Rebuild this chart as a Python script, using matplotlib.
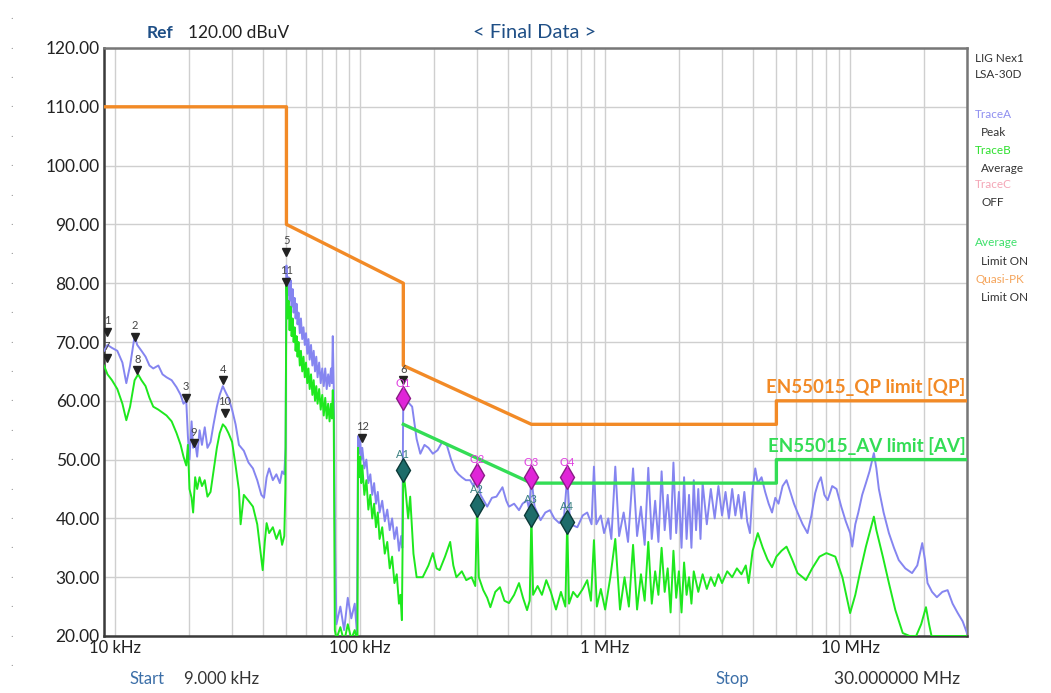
"""
EMI conducted emission scan - Final Data screen (EN55015)
"""

import numpy as np
import matplotlib
matplotlib.use("Agg")
import matplotlib.pyplot as plt
import matplotlib.transforms as mtransforms

# ══════════════════════════════════════════════
# DATA  (frequency in kHz, level in dBuV)
# ══════════════════════════════════════════════

# Quasi-peak / average limit lines
qp_freq = [9, 50, 50, 150, 150, 500, 5000, 5000, 30000]
qp_level = [110, 110, 90, 80, 66, 56, 56, 60, 60]
av_freq = [150, 500, 5000, 5000, 30000]
av_level = [56, 46, 46, 50, 50]

# TraceA - Peak  (freq kHz, dBuV)
trace_a = [
    (9.0, 68.5), (9.3, 69.5), (9.7, 69.0), (10.2, 68.5), (10.7, 66.5), (11.1, 63.0),
    (11.5, 66.0), (12.0, 71.0), (12.3, 69.5), (12.8, 68.5), (13.3, 67.5), (13.8, 66.0),
    (14.3, 65.5), (15.0, 66.0), (15.6, 64.5), (16.2, 64.0), (17.0, 63.5), (17.8, 62.3),
    (18.5, 61.0), (19.0, 59.5), (19.5, 60.0), (19.8, 54.0), (20.1, 50.0), (20.5, 56.5),
    (20.8, 52.0), (21.2, 53.0), (21.6, 50.5), (22.1, 55.0), (22.6, 52.5), (23.2, 55.5),
    (23.8, 52.0), (24.5, 53.0), (25.2, 56.0), (26.0, 59.0), (26.7, 61.0), (27.5, 62.5),
    (28.2, 61.5), (29.0, 60.5), (30.0, 58.5), (31.0, 56.0), (32.0, 52.5), (33.5, 51.5),
    (35.0, 49.5), (36.5, 48.5), (38.0, 46.5), (39.5, 44.0), (40.5, 43.5), (41.5, 47.0),
    (42.5, 48.5), (44.0, 46.5), (45.5, 47.5), (47.0, 46.0), (48.0, 48.0), (49.0, 47.5),
    (49.6, 52.0),
    (50.0, 83.0), (50.5, 78.0), (51.0, 81.0), (51.5, 77.0), (52.0, 80.5), (52.5, 76.0),
    (53.0, 79.0), (53.5, 75.0), (54.0, 77.5), (54.5, 74.0), (55.0, 76.5), (55.5, 73.0),
    (56.0, 75.0), (56.7, 71.5), (57.3, 74.0), (58.0, 70.5), (58.7, 72.5), (59.4, 69.5),
    (60.1, 71.5), (60.8, 68.0), (61.5, 70.5), (62.2, 67.0), (63.0, 69.5), (63.8, 66.0),
    (64.6, 68.5), (65.4, 65.0), (66.2, 67.5), (67.0, 64.0), (68.0, 66.5), (69.0, 63.0),
    (70.0, 65.5), (71.0, 62.5), (72.0, 65.5), (73.0, 62.0), (74.0, 64.5), (75.0, 62.5),
    (76.0, 65.5), (76.7, 63.0), (77.3, 71.0), (78.0, 62.0),
    (79, 35.0), (80, 22.0), (83, 25.0), (86, 21.0), (89, 26.5), (92, 23.0), (95, 25.5),
    (97, 20.5),
    (98, 54.0), (99, 51.0), (100, 53.5), (101, 50.0), (102, 52.0), (104, 48.5),
    (106, 50.0), (108, 46.0), (110, 47.5), (112, 44.0), (114, 46.0), (116, 42.5),
    (118, 44.5), (120, 41.0), (123, 43.0), (126, 39.5), (129, 41.5), (132, 38.0),
    (135, 40.0), (138, 36.5), (141, 38.5), (144, 34.5), (147, 37.0), (148.5, 35.0),
    (150, 62.0), (155, 60.0), (163, 59.0), (170, 53.5), (176, 51.0), (183, 52.5),
    (190, 52.0), (198, 51.0), (207, 51.6), (216, 53.0), (226, 52.4), (235, 50.0),
    (244, 48.2), (252, 47.5), (260, 47.0), (270, 46.5), (281, 46.5), (290, 45.5),
    (300, 47.5), (310, 44.0), (330, 42.0), (345, 43.5), (360, 43.7), (381, 45.3),
    (395, 43.0), (405, 42.0), (425, 42.5), (445, 41.4), (460, 42.5), (480, 43.1),
    (490, 41.5), (500, 47.0), (515, 42.0), (545, 39.7), (570, 41.0), (595, 41.4),
    (620, 40.0), (650, 39.2), (680, 40.5), (700, 47.0), (720, 39.0), (770, 38.5),
    (810, 40.5), (845, 41.0), (880, 39.0), (900, 48.8), (920, 39.0), (960, 40.5),
    (990, 37.5), (1030, 40.0), (1060, 36.5), (1100, 48.8), (1140, 37.0), (1190, 41.0),
    (1240, 36.0), (1300, 48.5), (1350, 37.0), (1400, 42.0), (1450, 35.5), (1500, 48.6),
    (1550, 36.5), (1600, 43.0), (1650, 36.0), (1700, 48.0), (1750, 38.0), (1800, 44.0),
    (1850, 36.5), (1900, 49.5), (1950, 37.5), (2000, 44.5), (2050, 35.0), (2100, 47.0),
    (2150, 36.5), (2200, 44.0), (2250, 35.0), (2300, 46.5), (2350, 38.0), (2400, 45.0),
    (2450, 36.5), (2500, 46.0), (2600, 39.0), (2700, 45.0), (2800, 40.0), (2900, 45.5),
    (3000, 40.5), (3100, 44.5), (3200, 40.0), (3300, 45.0), (3400, 40.5), (3500, 44.0),
    (3600, 40.0), (3700, 44.5), (3800, 39.5), (3900, 37.5), (4000, 45.0), (4100, 48.5),
    (4200, 46.0), (4350, 47.0), (4500, 44.5), (4650, 42.5), (4800, 41.0), (4950, 43.5),
    (5100, 42.5), (5300, 45.5), (5500, 46.5), (5700, 44.5), (5900, 42.5), (6100, 41.0),
    (6400, 39.0), (6700, 37.5), (6950, 40.5), (7200, 44.3), (7400, 46.0), (7600, 47.0),
    (7850, 44.0), (8100, 43.1), (8450, 45.5), (8800, 45.0), (9200, 42.0), (9600, 39.5),
    (10000, 37.5), (10200, 35.2), (10500, 39.0), (10800, 41.0), (11200, 44.0),
    (11600, 46.0), (12000, 48.0), (12500, 51.1), (12800, 48.5), (13100, 45.0),
    (13700, 41.0), (14400, 37.5), (15100, 35.0), (15800, 32.9), (16800, 31.5),
    (17900, 30.7), (18800, 32.0), (19700, 35.8), (20200, 33.0), (20700, 29.0),
    (21600, 27.5), (22600, 26.6), (23800, 27.5), (25000, 27.8), (26200, 25.5),
    (27500, 23.9), (28800, 22.5), (30000, 20.5),
]

# TraceB - Average  (freq kHz, dBuV)
trace_b = [
    (9.0, 66.0), (9.3, 64.5), (9.7, 63.5), (10.2, 62.0), (10.7, 59.5), (11.1, 56.7),
    (11.5, 59.0), (12.0, 63.5), (12.4, 64.5), (12.8, 63.5), (13.3, 62.5), (13.8, 60.5),
    (14.3, 59.0), (15.0, 58.5), (15.6, 58.0), (16.2, 57.5), (17.0, 56.5), (17.8, 54.5),
    (18.5, 52.5), (19.0, 50.5), (19.5, 49.0), (19.8, 52.5), (20.1, 45.0), (20.5, 43.5),
    (20.8, 41.0), (21.2, 47.0), (21.6, 45.0), (22.1, 47.0), (22.6, 45.5), (23.2, 46.5),
    (23.8, 43.7), (24.5, 44.5), (25.2, 48.0), (26.0, 52.0), (26.7, 54.5), (27.5, 56.0),
    (28.2, 55.5), (29.0, 54.5), (30.0, 53.0), (31.0, 49.0), (32.0, 44.8), (32.5, 39.0),
    (33.5, 44.0), (35.0, 43.0), (36.5, 42.0), (38.0, 39.0), (39.5, 33.0), (40.0, 31.2),
    (40.8, 36.0), (41.5, 39.2), (42.5, 37.5), (44.0, 38.5), (45.5, 36.5), (47.0, 38.0),
    (48.0, 35.5), (49.0, 37.0), (49.5, 45.0),
    (50.0, 80.0), (50.5, 74.0), (51.0, 77.0), (51.5, 72.0), (52.0, 76.0), (52.5, 71.0),
    (53.0, 74.0), (53.5, 70.0), (54.0, 72.5), (54.5, 68.5), (55.0, 71.0), (55.5, 67.5),
    (56.0, 70.0), (56.7, 66.0), (57.3, 68.5), (58.0, 65.0), (58.7, 67.5), (59.4, 64.0),
    (60.1, 66.5), (60.8, 63.0), (61.5, 65.5), (62.2, 62.0), (63.0, 64.5), (63.8, 61.0),
    (64.6, 63.5), (65.4, 60.0), (66.2, 62.5), (67.0, 59.5), (68.0, 62.0), (69.0, 58.5),
    (70.0, 61.0), (71.0, 57.5), (72.0, 60.5), (73.0, 57.0), (74.0, 59.5), (75.0, 56.5),
    (76.0, 59.5), (76.7, 57.0), (77.3, 61.8), (78.0, 57.0),
    (78.8, 21.0), (80, 19.5), (83, 21.5), (86, 19.0), (89, 22.0), (92, 19.5), (95, 21.0),
    (97.5, 19.0),
    (98, 52.0), (99, 47.0), (100, 50.5), (101, 46.0), (102, 49.0), (104, 44.0),
    (106, 46.5), (108, 41.5), (110, 44.0), (112, 40.0), (114, 42.5), (116, 38.5),
    (118, 41.0), (120, 36.5), (123, 38.5), (126, 34.0), (129, 36.0), (132, 31.5),
    (135, 33.5), (138, 29.0), (141, 30.5), (144, 25.5), (146, 27.0), (148, 22.7),
    (150, 48.2), (153, 45.0), (157, 40.0), (160, 43.7), (165, 34.0), (170, 30.0),
    (180, 30.0), (190, 32.0), (198, 34.1), (205, 31.5), (211, 31.2), (222, 33.5),
    (233, 36.0), (240, 32.0), (247, 30.0), (260, 31.0), (271, 29.5), (285, 30.0),
    (295, 28.5), (300, 42.3), (305, 30.0), (318, 27.8), (330, 26.5), (340, 24.9),
    (356, 27.5), (372, 28.3), (388, 26.0), (405, 25.6), (425, 27.0), (445, 29.0),
    (462, 26.5), (480, 24.4), (492, 26.0), (500, 40.6), (508, 27.0), (530, 28.5),
    (552, 27.0), (575, 29.5), (600, 27.5), (630, 24.5), (660, 27.5), (688, 25.0),
    (700, 39.4), (712, 25.5), (740, 27.5), (770, 26.6), (810, 28.0), (845, 29.5),
    (875, 26.0), (900, 36.3), (925, 25.0), (960, 28.0), (1000, 24.5), (1050, 30.0),
    (1100, 36.5), (1150, 24.5), (1200, 30.0), (1250, 25.0), (1300, 35.5), (1350, 24.5),
    (1400, 30.5), (1450, 26.0), (1500, 36.0), (1550, 25.5), (1600, 31.0), (1650, 27.0),
    (1700, 35.0), (1750, 27.5), (1800, 31.5), (1850, 24.0), (1900, 34.5), (1950, 26.5),
    (2000, 31.0), (2050, 24.0), (2100, 32.5), (2150, 27.0), (2200, 30.0), (2250, 25.5),
    (2300, 31.0), (2400, 27.5), (2500, 30.5), (2600, 28.0), (2700, 30.0), (2800, 28.5),
    (2900, 30.5), (3000, 29.0), (3150, 31.0), (3300, 30.0), (3450, 31.5), (3600, 30.5),
    (3750, 32.0), (3850, 29.0), (4000, 34.5), (4200, 37.5), (4400, 35.0), (4600, 33.0),
    (4800, 31.7), (5000, 33.5), (5250, 34.5), (5500, 35.2), (5800, 33.0), (6100, 30.7),
    (6400, 30.0), (6600, 29.5), (7000, 31.5), (7500, 33.5), (8000, 34.1), (8700, 33.5),
    (9300, 30.0), (10000, 23.9), (10500, 27.0), (11000, 31.0), (11600, 35.2),
    (12000, 37.5), (12500, 40.3), (12800, 38.0), (13600, 33.5), (14400, 29.0),
    (15300, 24.4), (16400, 20.5), (17500, 20.0), (18600, 20.0), (19500, 22.0),
    (20400, 24.9), (21000, 22.0), (21500, 20.0), (30000, 20.0),
]
trace_a_freq, trace_a_level = zip(*trace_a)
trace_b_freq, trace_b_level = zip(*trace_b)

# Peak markers (black triangles)
peak_labels = ["1", "7", "2", "8", "3", "9", "4", "10", "5", "11", "12", "6"]
peak_freq = [9.25, 9.25, 12.0, 12.3, 19.5, 21.0, 27.5, 28.0, 50.0, 50.0, 102, 150]
peak_level = [71.7, 67.3, 70.9, 65.2, 60.5, 52.8, 63.5, 58.0, 85.3, 80.2, 53.7, 63.5]

# Final data points: quasi-peak (Q) and average (A)
qp_labels = ["Q1", "Q2", "Q3", "Q4"]
qp_pt_freq = [150, 300, 500, 700]
qp_pt_level = [60.4, 47.4, 47.0, 47.0]
av_labels = ["A1", "A2", "A3", "A4"]
av_pt_freq = [150, 300, 500, 700]
av_pt_level = [48.2, 42.3, 40.6, 39.4]

x_ticks = [10e3, 100e3, 1e6, 10e6]
x_tick_labels = ["10 kHz", "100 kHz", "1 MHz", "10 MHz"]
y_ticks = [20, 30, 40, 50, 60, 70, 80, 90, 100, 110, 120]

# ══════════════════════════════════════════════
# STYLE
# ══════════════════════════════════════════════

C_QP = "#f28a26"
C_AV = "#33dd55"
C_TA = "#8585f0"
C_TB = "#1ee81e"
C_NAVY = "#1f4f86"
C_TXT = "#333333"
C_GRID = "#cfcfcf"

plt.rcParams["font.family"] = ["Lato", "DejaVu Sans"]

fig = plt.figure(figsize=(10.51, 6.93), dpi=100, facecolor="white")
ax = fig.add_axes([104 / 1051, 1 - 636 / 693, 863 / 1051, 588 / 693])

khz = lambda v: np.array(v, dtype=float) * 1e3

# ── grid ──────────────────────────────────────
ax.set_xscale("log")
ax.set_xlim(9e3, 30e6)
ax.set_ylim(20, 120)
ax.set_xticks(x_ticks)
ax.set_xticklabels(x_tick_labels, fontsize=12, color="#222222")
ax.set_yticks(y_ticks)
ax.set_yticklabels([f"{v:.2f}" for v in y_ticks], fontsize=12.5, color="#222222")
ax.xaxis.set_minor_locator(matplotlib.ticker.LogLocator(base=10, subs=np.arange(2, 10)))
ax.xaxis.set_minor_formatter(matplotlib.ticker.NullFormatter())
ax.tick_params(which="both", length=0, pad=3)
ax.grid(which="both", axis="x", color=C_GRID, lw=1.0)
ax.grid(which="major", axis="y", color=C_GRID, lw=1.0)
ax.set_axisbelow(True)
for name, sp in ax.spines.items():
    sp.set_color("#3a3a3a" if name in ("left", "bottom") else "#777777")
    sp.set_linewidth(1.8)

# ── traces ────────────────────────────────────
ax.plot(khz(trace_a_freq), trace_a_level, color=C_TA, lw=1.4, zorder=3)
ax.plot(khz(trace_b_freq), trace_b_level, color=C_TB, lw=1.4, zorder=4)

# ── limit lines ───────────────────────────────
ax.plot(khz(qp_freq), qp_level, color=C_QP, lw=2.4, zorder=5)
ax.plot(khz(av_freq), av_level, color=C_AV, lw=2.4, zorder=5)
ax.text(29.6e6, 60.8, "EN55015_QP limit [QP]", color=C_QP, fontsize=13.5,
        fontweight="bold", ha="right", va="bottom", zorder=6)
ax.text(29.6e6, 50.8, "EN55015_AV limit [AV]", color=C_AV, fontsize=13.5,
        fontweight="bold", ha="right", va="bottom", zorder=6)

# ── markers ───────────────────────────────────
ax.plot(khz(peak_freq), peak_level, ls="none", marker="v", ms=6,
        color="#222222", zorder=7)
for lab, f, v in zip(peak_labels, peak_freq, peak_level):
    ax.annotate(lab, (f * 1e3, v), xytext=(0, 4), textcoords="offset points",
                ha="center", va="bottom", fontsize=8, color="#444444", zorder=7)

ax.plot(khz(qp_pt_freq), qp_pt_level, ls="none", marker="d", ms=12,
        mfc="#e024d8", mec="#8a1a86", mew=1, zorder=8)
for lab, f, v in zip(qp_labels, qp_pt_freq, qp_pt_level):
    ax.annotate(lab, (f * 1e3, v), xytext=(0, 7), textcoords="offset points",
                ha="center", va="bottom", fontsize=8, color="#e040e0", zorder=8)

ax.plot(khz(av_pt_freq), av_pt_level, ls="none", marker="d", ms=12,
        mfc="#1d6c6a", mec="#0b3a38", mew=1, zorder=8)
for lab, f, v in zip(av_labels, av_pt_freq, av_pt_level):
    ax.annotate(lab, (f * 1e3, v), xytext=(0, 7), textcoords="offset points",
                ha="center", va="bottom", fontsize=8, color="#3a8080", zorder=8)

# ── header / footer ───────────────────────────
fig.text(147 / 1051, 1 - 33 / 693, "Ref", color=C_NAVY, fontsize=12.5,
         fontweight="bold", va="center")
fig.text(188 / 1051, 1 - 33 / 693, "120.00 dBuV", color="#222222", fontsize=12.5,
         va="center")
fig.text(535 / 1051, 1 - 33 / 693, "< Final Data >", color=C_NAVY, fontsize=14.5,
         ha="center", va="center")

fig.text(130 / 1051, 1 - 679 / 693, "Start", color="#3c6fa8", fontsize=12, va="center")
fig.text(184 / 1051, 1 - 679 / 693, "9.000 kHz", color="#333333", fontsize=12, va="center")
fig.text(715 / 1051, 1 - 679 / 693, "Stop", color="#3c6fa8", fontsize=12, va="center")
fig.text(834 / 1051, 1 - 679 / 693, "30.000000 MHz", color="#333333", fontsize=12.5,
         va="center")

# ── right side info panel ─────────────────────
side = [
    ("LIG Nex1", C_TXT, 975, 58),
    ("LSA-30D", C_TXT, 975, 75),
    ("TraceA", "#8f8ff0", 975, 115),
    ("Peak", C_TXT, 981, 132),
    ("TraceB", "#2ee02e", 975, 150),
    ("Average", C_TXT, 981, 168),
    ("TraceC", "#f4a6b6", 975, 185),
    ("OFF", C_TXT, 981, 203),
    ("Average", "#3de06a", 975, 243),
    ("Limit ON", C_TXT, 981, 262),
    ("Quasi-PK", "#f5a45a", 975, 280),
    ("Limit ON", C_TXT, 981, 298),
]
for txt, col, px, py in side:
    fig.text(px / 1051, 1 - py / 693, txt, color=col, fontsize=8.5, va="center")

# faint dots in the left margin
trans = mtransforms.blended_transform_factory(fig.transFigure, ax.transData)
for v in np.arange(15, 126, 5):
    ax.text(12 / 1051, v + 0.5, ".", transform=trans, color="#999999",
            fontsize=8, ha="center", va="center", clip_on=False)

fig.savefig("out.png", dpi=100, facecolor="white")
